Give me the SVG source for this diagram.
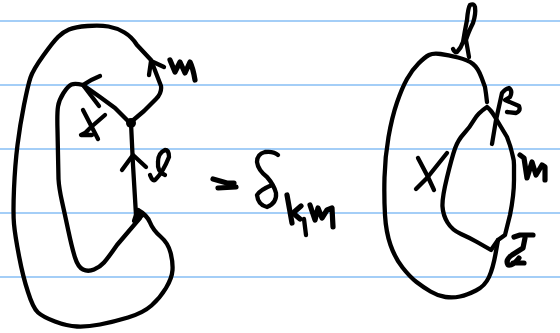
<svg xmlns="http://www.w3.org/2000/svg" width="560" height="333" viewBox="0 0 560 333">
<style>
.r{stroke:#4a9ef0;stroke-width:1.2;fill:none}
.i{stroke:#000;stroke-width:4.3;fill:none;stroke-linecap:round;stroke-linejoin:round}
.b{stroke-width:5.2}
</style>
<rect width="560" height="333" fill="#fff"/>
<g id="rules" class="r">
<path d="M0,21H560"/><path d="M0,85H560"/><path d="M0,149H560"/><path d="M0,213H560"/><path d="M0,277H560"/>
</g>
<g id="left-figure" class="i">
<path d="M131,122 L144,111 L156,99 Q162,93 161,86 L151,60 L137,45 Q132,37 124.5,32.5 Q117,28 108.5,26.5 Q100,25 87.5,26 Q75,27 69,29.5 Q63,32 58,37 Q53,42 43,56 Q33,70 30.5,77.5 Q28,85 24,105 Q20,125 17.5,145 Q15,165 14,189 Q13,213 14,224 Q15,235 19,256 Q23,277 28,292 Q33,308 38,312.5 Q43,317 55,321.5 Q67,326 77,326.5 Q87,327 100,324.5 Q113,322 128,317.5 Q143,313 151.5,305.5 Q160,298 166,288 Q172,278 172.5,270 Q173,262 170.5,252.5 Q168,243 160.5,236.5 Q153,230 150,222.5 Q147,215 138,210"/>
<path d="M140,218 L117,245 Q108,258 104,262.5 Q100,267 94,269.5 Q88,272 83,269.5 Q78,267 75,257.5 Q72,248 68.5,231.5 Q65,215 62,201.5 Q59,188 58.5,179 L57.5,130 Q57,113 58,106.5 Q59,100 63.5,93 Q68,86 71.5,84.5 Q75,83 83,85 L100,97 L115,108 L130,123"/>
<path d="M131,123 L133,165 L136,215"/>
<path d="M122,170 L133,155 L146,167"/>
<path d="M100,76 Q90,80 83,85 L99,106"/>
<path d="M149,75 L151,61 L164,67"/>
<circle cx="131" cy="123" r="5" fill="#000" stroke="none"/>
<path d="M134,221 L143,215 L137,212Z" fill="#000"/>
</g>
<g id="left-labels" class="i">
<path d="M83,110 L98,139"/>
<path d="M105,115 L90,128 Q86,133 81,135 L92,135"/>
<path class="b" d="M170,60 L175,72 L180,62 L185,73 L190,62 Q193,68 195,80"/>
<path d="M150,175 Q153,183 156,179 Q163,172 169,157 Q169,150 165,150 Q158,153 158,162 Q157,172 165,175"/>
</g>
<g id="equation" class="i">
<path class="b" d="M213,179 L227,183 L234,183"/>
<path class="b" d="M218,188 L236,187"/>
<path d="M278,155 Q274,151 265,152 Q257,154 257,162 Q258,170 267,177 Q274,185 276,193 Q277,203 267,207 Q258,205 257,195 Q260,190 272,185"/>
<path class="b" d="M287,195 L292,223"/>
<path class="b" d="M301,206 L293,213 L300,219"/>
<path d="M304,219 L306,235"/>
<path class="b" d="M310,205 L315,220 L318,208 L322,218 L327,210 L332,208 L333,227"/>
</g>
<g id="right-figure" class="i">
<path d="M487,102 Q486,93 485,87 Q485,87 481.5,77.5 Q478,68 473,64 Q468,60 458,57.5 Q448,55 440.5,54 Q433,53 429,55 Q425,57 418.5,63.5 Q412,70 407,79 Q402,88 397,102.5 Q392,117 388.5,137 Q385,157 384.5,177.5 Q384,198 385,215 Q386,232 390.5,245 Q395,258 402.5,267.5 Q410,277 416.5,282 Q423,287 430.5,291.5 Q438,296 445.5,297 Q453,298 460,296.5 Q467,295 476,290.5 Q485,286 489,277 Q493,268 495.5,254 L498,240"/>
<path d="M487,107 Q478,113 474,120 Q470,127 464,133.5 Q458,140 455,148.5 Q452,157 447,177.5 Q442,198 442.5,206.5 Q443,215 447.5,222.5 Q452,230 461,234 Q470,238 477,242 L491,250 L498,240 L505,235 L510,215 Q514,195 514,180 L514,165 Q514,160 513,157 Q511,147 507,137 L495,117 Q491,110 487,107"/>
</g>
<g id="right-labels" class="i">
<path d="M453,49 Q455,53 457,52 Q461,48 463,42 Q465,30 467,20 Q468,8 470,5 Q474,3 475,7 Q476,14 473,23 Q468,33 466,40 L469,57"/>
<path d="M492,144 L496,120 L502,93 Q505,89 509,88 Q513,91 510,97 L505,100 L519,106 Q521,111 516,113 L507,112"/>
<path d="M418,158 L428,177 L434,190"/>
<path d="M447,153 L427,178 L416,189"/>
<path class="b" d="M520,155 L524,158 L527,178 L532,162 L536,175 L542,165 L545,167 L545,180"/>
<path class="b" d="M514,237 L520,235 L533,235"/>
<path class="b" d="M525,238 L523,248 L512,255 Q505,260 508,265 Q513,266 519,258 M513,263 L524,263"/>
</g>
</svg>
